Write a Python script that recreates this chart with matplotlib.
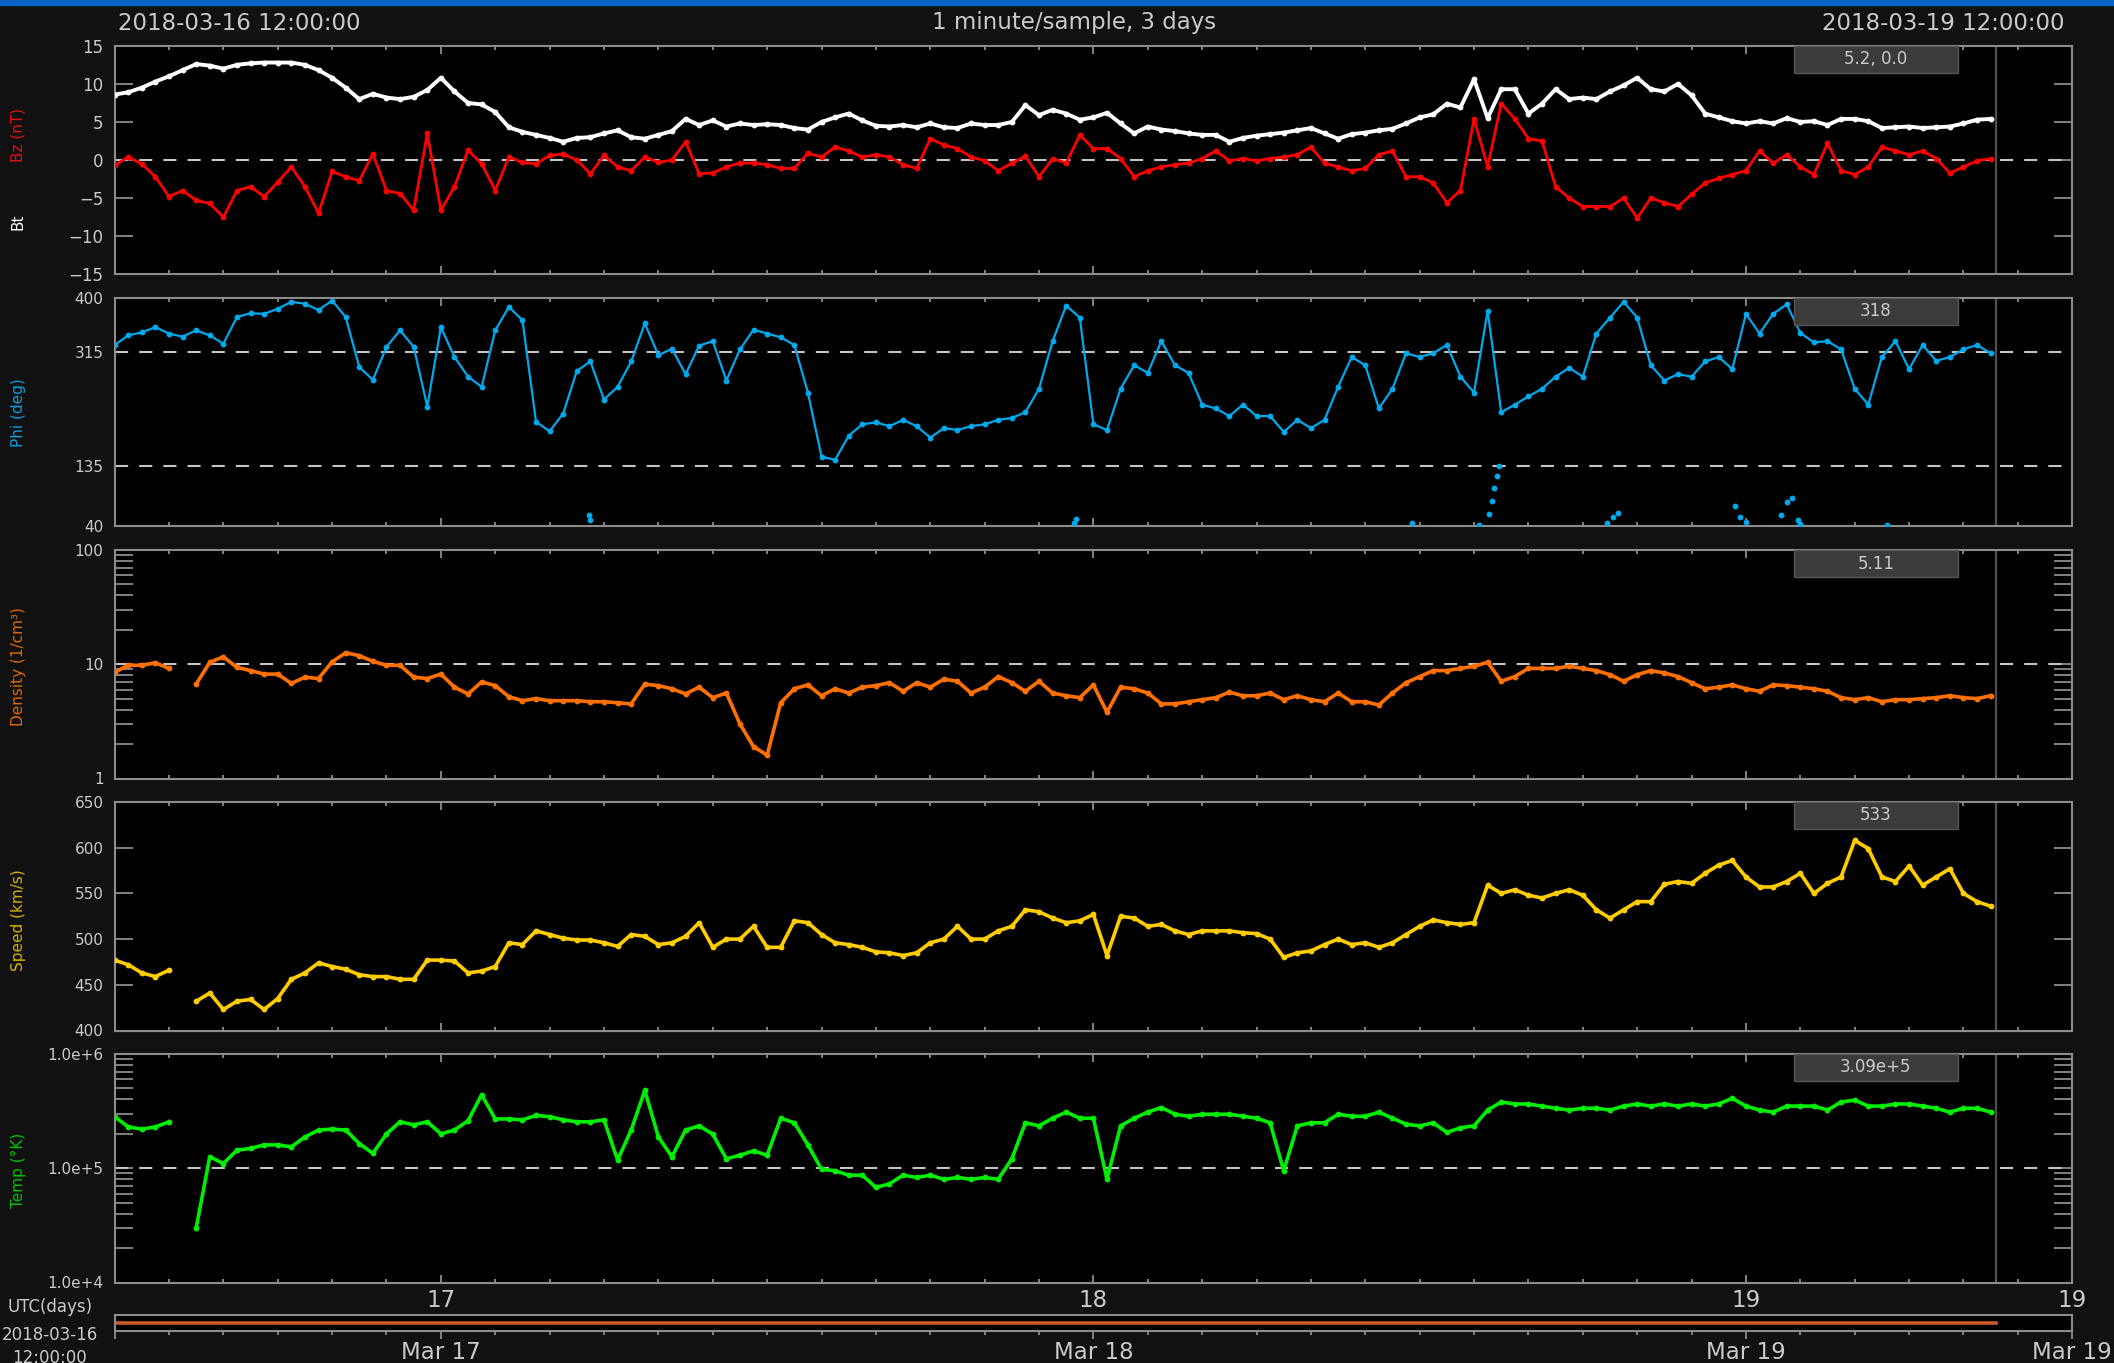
import numpy as np
import matplotlib
matplotlib.use("Agg")
import matplotlib.pyplot as plt
from matplotlib.ticker import FixedLocator, FixedFormatter, NullFormatter
from matplotlib.patches import Rectangle
import matplotlib.transforms as mtransforms

plt.rcParams['font.family'] = ['DejaVu Sans']

# ---------------- data (hours since 2018-03-16 12:00 UTC, 30-min samples) ----------------
hours = np.arange(0, 69.01, 0.5)
t_now = 69.2

bt = [8.6, 8.9, 9.5, 10.3, 11.0, 11.8, 12.6, 12.4, 12.0, 12.5,
      12.7, 12.8, 12.8, 12.8, 12.5, 11.8, 10.8, 9.5, 8.0, 8.7,
      8.2, 8.0, 8.3, 9.2, 10.8, 9.0, 7.5, 7.3, 6.3, 4.3,
      3.7, 3.3, 2.9, 2.4, 2.9, 3.0, 3.5, 3.9, 3.0, 2.8,
      3.3, 3.8, 5.4, 4.6, 5.2, 4.4, 4.8, 4.6, 4.7, 4.6,
      4.2, 4.0, 5.0, 5.6, 6.1, 5.2, 4.5, 4.4, 4.6, 4.3,
      4.8, 4.3, 4.2, 4.8, 4.6, 4.6, 5.0, 7.2, 5.9, 6.6,
      6.1, 5.3, 5.6, 6.2, 4.8, 3.5, 4.4, 4.0, 3.8, 3.5,
      3.3, 3.3, 2.4, 2.9, 3.2, 3.4, 3.6, 3.9, 4.2, 3.5,
      2.8, 3.4, 3.6, 3.9, 4.1, 4.8, 5.6, 6.0, 7.4, 6.9,
      10.6, 5.5, 9.3, 9.3, 6.1, 7.4, 9.3, 8.0, 8.2, 8.0,
      9.0, 9.8, 10.8, 9.3, 9.0, 10.0, 8.5, 6.1, 5.6, 5.1,
      4.8, 5.1, 4.8, 5.5, 5.0, 5.1, 4.6, 5.4, 5.4, 5.1,
      4.2, 4.3, 4.4, 4.2, 4.3, 4.4, 4.8, 5.3, 5.4]

bz = [-0.7, 0.4, -0.5, -2.2, -4.8, -4.0, -5.3, -5.7, -7.5, -4.0,
      -3.5, -4.8, -2.9, -0.9, -3.5, -7.0, -1.5, -2.2, -2.7, 0.8,
      -4.0, -4.4, -6.6, 3.5, -6.6, -3.5, 1.3, -0.5, -4.0, 0.4,
      -0.3, -0.5, 0.6, 0.8, 0.0, -1.8, 0.6, -0.9, -1.4, 0.4,
      -0.3, 0.0, 2.4, -1.8, -1.7, -0.9, -0.4, -0.4, -0.6, -1.1,
      -1.1, 0.9, 0.4, 1.7, 1.2, 0.4, 0.7, 0.4, -0.6, -1.1,
      2.8, 2.0, 1.5, 0.4, -0.1, -1.4, -0.4, 0.5, -2.2, 0.2,
      -0.4, 3.3, 1.5, 1.5, 0.2, -2.2, -1.4, -0.9, -0.6, -0.4,
      0.2, 1.2, -0.1, 0.2, -0.1, 0.2, 0.4, 0.7, 1.7, -0.4,
      -0.9, -1.4, -1.1, 0.7, 1.2, -2.2, -2.2, -3.0, -5.6, -4.0,
      5.4, -0.9, 7.4, 5.4, 2.8, 2.5, -3.5, -5.0, -6.1, -6.1,
      -6.1, -5.0, -7.6, -5.0, -5.6, -6.1, -4.5, -3.0, -2.4, -1.9,
      -1.4, 1.2, -0.4, 0.7, -0.9, -1.9, 2.2, -1.4, -1.9, -0.9,
      1.7, 1.2, 0.7, 1.2, 0.2, -1.7, -0.9, -0.1, 0.2]

phi = [326, 341, 346, 354, 344, 339, 349, 341, 328, 370,
       376, 375, 383, 394, 391, 381, 396, 370, 291, 271,
       323, 349, 323, 229, 354, 307, 276, 260, 349, 386,
       365, 205, 190, 218, 285, 300, 240, 260, 300, 360,
       310, 320, 280, 325, 332, 270, 319, 350, 344, 338,
       326, 251, 150, 145, 183, 201, 204, 198, 208, 198,
       180, 195, 192, 198, 201, 208, 211, 220, 257, 332,
       388, 369, 201, 192, 257, 294, 282, 332, 294, 282,
       232, 226, 214, 232, 214, 214, 189, 208, 195, 208,
       260, 307, 294, 226, 257, 313, 307, 313, 326, 276,
       251, 380, 220, 232, 245, 257, 276, 290, 276, 344,
       369, 394, 369, 294, 270, 280, 276, 300, 307, 288,
       375, 344, 375, 390, 345, 330, 332, 319, 257, 232,
       307, 332, 288, 326, 301, 307, 319, 326, 313]

# phi samples that wrapped past 400 deg (drawn near the bottom of the panel)
phi_wrap_hours = [17.45, 17.5, 35.3, 35.35, 47.7, 50.2, 50.55, 50.65, 50.75, 50.85,
                  50.9, 54.9, 55.1, 55.3, 59.6, 59.8, 60.0, 61.3, 61.5, 61.7, 61.9, 62.0, 65.2]
phi_wrap_vals = [58, 50, 46, 52, 46, 42, 60, 80, 100, 120,
                 135, 45, 55, 62, 72, 55, 47, 58, 78, 85, 50, 44, 43]

density = [8.5, 9.8, 9.8, 10.3, 9.2, np.nan, 6.7, 10.4, 11.6, 9.4,
           8.8, 8.2, 8.2, 6.8, 7.7, 7.5, 10.5, 12.6, 11.9, 10.6,
           9.8, 9.8, 7.7, 7.5, 8.2, 6.3, 5.5, 7.0, 6.5, 5.2,
           4.8, 5.0, 4.8, 4.8, 4.8, 4.7, 4.7, 4.6, 4.5, 6.7,
           6.5, 6.1, 5.5, 6.3, 5.1, 5.6, 3.0, 1.9, 1.6, 4.6,
           6.1, 6.6, 5.3, 6.1, 5.6, 6.3, 6.5, 6.9, 5.8, 6.9,
           6.3, 7.4, 7.1, 5.6, 6.3, 7.8, 6.9, 5.8, 7.1, 5.6,
           5.3, 5.1, 6.6, 3.8, 6.3, 6.1, 5.6, 4.5, 4.5, 4.7,
           4.9, 5.1, 5.7, 5.3, 5.3, 5.6, 4.9, 5.3, 4.9, 4.7,
           5.6, 4.7, 4.7, 4.4, 5.6, 6.9, 7.8, 8.8, 8.8, 9.2,
           9.6, 10.4, 7.1, 7.8, 9.2, 9.2, 9.2, 9.6, 9.2, 8.8,
           8.1, 7.1, 8.1, 8.8, 8.4, 7.8, 6.9, 6.1, 6.3, 6.6,
           6.1, 5.8, 6.6, 6.5, 6.3, 6.1, 5.8, 5.1, 4.9, 5.1,
           4.7, 4.9, 4.9, 5.0, 5.1, 5.3, 5.1, 5.0, 5.3]

speed = [477, 472, 463, 459, 466, np.nan, 432, 441, 423, 432,
         434, 423, 435, 456, 463, 474, 470, 467, 461, 459,
         459, 456, 456, 477, 477, 476, 463, 465, 470, 496,
         494, 509, 505, 501, 499, 499, 496, 492, 505, 503,
         494, 496, 503, 518, 491, 500, 500, 514, 491, 491,
         520, 518, 505, 496, 494, 491, 486, 485, 482, 485,
         496, 500, 514, 500, 500, 509, 514, 532, 530, 523,
         518, 520, 527, 482, 525, 523, 514, 516, 509, 505,
         509, 509, 509, 507, 506, 500, 480, 485, 487, 494,
         500, 494, 496, 491, 496, 505, 514, 521, 518, 516,
         518, 559, 550, 554, 548, 545, 550, 554, 548, 532,
         523, 532, 541, 541, 560, 563, 561, 572, 581, 586,
         568, 557, 557, 563, 572, 550, 561, 568, 608, 599,
         568, 563, 580, 559, 568, 577, 550, 541, 536]

temp = [2.83e5, 2.3e5, 2.2e5, 2.3e5, 2.55e5, np.nan, 3.0e4, 1.26e5, 1.1e5, 1.44e5,
        1.49e5, 1.6e5, 1.6e5, 1.54e5, 1.88e5, 2.16e5, 2.2e5, 2.16e5, 1.64e5, 1.35e5,
        2.0e5, 2.55e5, 2.4e5, 2.55e5, 2.0e5, 2.16e5, 2.6e5, 4.4e5, 2.7e5, 2.7e5,
        2.65e5, 2.9e5, 2.83e5, 2.65e5, 2.55e5, 2.55e5, 2.65e5, 1.18e5, 2.16e5, 4.8e5,
        1.88e5, 1.26e5, 2.16e5, 2.35e5, 1.99e5, 1.21e5, 1.3e5, 1.42e5, 1.3e5, 2.74e5,
        2.5e5, 1.6e5, 9.8e4, 9.5e4, 8.7e4, 8.7e4, 6.8e4, 7.3e4, 8.7e4, 8.3e4,
        8.7e4, 8.0e4, 8.3e4, 8.0e4, 8.3e4, 8.0e4, 1.21e5, 2.5e5, 2.35e5, 2.74e5,
        3.1e5, 2.74e5, 2.74e5, 8.0e4, 2.35e5, 2.74e5, 3.1e5, 3.4e5, 2.97e5, 2.85e5,
        2.97e5, 2.97e5, 2.97e5, 2.85e5, 2.74e5, 2.5e5, 9.5e4, 2.35e5, 2.5e5, 2.5e5,
        2.97e5, 2.85e5, 2.85e5, 3.1e5, 2.74e5, 2.43e5, 2.35e5, 2.5e5, 2.06e5, 2.26e5,
        2.35e5, 3.23e5, 3.8e5, 3.65e5, 3.65e5, 3.5e5, 3.35e5, 3.23e5, 3.35e5, 3.35e5,
        3.23e5, 3.5e5, 3.65e5, 3.5e5, 3.65e5, 3.5e5, 3.65e5, 3.5e5, 3.65e5, 4.1e5,
        3.5e5, 3.23e5, 3.1e5, 3.5e5, 3.5e5, 3.5e5, 3.23e5, 3.8e5, 3.95e5, 3.5e5,
        3.5e5, 3.65e5, 3.65e5, 3.5e5, 3.35e5, 3.1e5, 3.35e5, 3.35e5, 3.1e5]

box_labels = ["5.2, 0.0", "318", "5.11", "533", "3.09e+5"]

bz_ticks = [-15, -10, -5, 0, 5, 10, 15]
phi_ticks = [40, 135, 315, 400]
dens_ticks = [1, 10, 100]
dens_tick_labels = ["1", "10", "100"]
speed_ticks = [400, 450, 500, 550, 600, 650]
temp_ticks = [1e4, 1e5, 1e6]
temp_tick_labels = ["1.0e+4", "1.0e+5", "1.0e+6"]
day_label_hours = [12, 36, 60, 72]
day_labels = ["17", "18", "19", "19"]
date_labels = ["", "Mar 17", "Mar 18", "Mar 19", "Mar 19"]

# ---------------- figure ----------------
W, H = 2114, 1363
fig = plt.figure(figsize=(W / 100, H / 100), dpi=100)
fig.patch.set_facecolor('#111111')
fig.add_artist(Rectangle((0, 1 - 5 / H), 1, 5 / H, transform=fig.transFigure,
                         color='#0a64c8', zorder=10))

GRID = '#8c8c8c'
TXT = '#cacaca'
L, R = 114.6, 2072.2
PH = 228.5
tops = [45.8, 298, 550, 802, 1054]
minor_hours = np.arange(2, 72, 2)


def add_panel(top):
    return fig.add_axes([L / W, 1 - (top + PH) / H, (R - L) / W, PH / H])


def base_style(ax, ylen=13, labelsize=11):
    ax.set_facecolor('black')
    for s in ax.spines.values():
        s.set_color(GRID)
        s.set_linewidth(1.5)
    ax.set_xlim(0, 72)
    ax.xaxis.set_major_locator(FixedLocator([12, 36, 60]))
    ax.xaxis.set_minor_locator(FixedLocator(minor_hours))
    ax.tick_params(axis='x', which='major', direction='in', top=True, bottom=True,
                   length=6, width=1.3, color=GRID, labelbottom=False)
    ax.tick_params(axis='x', which='minor', direction='in', top=True, bottom=True,
                   length=3, width=1.3, color=GRID)
    ax.tick_params(axis='y', which='both', direction='in', left=True, right=True,
                   length=ylen, width=1.3, color=GRID, labelcolor=TXT,
                   labelsize=labelsize, pad=8)
    ax.axvline(t_now, color='#505050', lw=1.6, zorder=1)


def dashed(ax, y):
    ax.axhline(y, color='#c4c4c4', lw=1.5, dashes=(6.3, 5.3), zorder=2)


def value_box(ax, text):
    trans = mtransforms.blended_transform_factory(ax.transData, ax.transAxes)
    h = 27 / PH
    ax.add_patch(Rectangle((61.75, 1 - h), 6.05, h, transform=trans,
                           facecolor='#3b3b3b', edgecolor='#555555', lw=1.0,
                           zorder=6, clip_on=False))
    ax.text(64.78, 1 - h / 2, text, transform=trans, ha='center', va='center',
            color=TXT, fontsize=12, zorder=7)


def ylab(y, text, color):
    fig.text(18 / W, 1 - y / H, text, rotation=90, color=color,
             ha='center', va='center', fontsize=11)


pt = dict(marker='o', ms=4.2, mew=0)

# Panel 1: Bt / Bz
ax1 = add_panel(tops[0])
base_style(ax1, labelsize=12)
ax1.plot(hours, bt, color='white', lw=2.8, zorder=3, **pt)
ax1.plot(hours, bz, color='#ff0000', lw=2.0, zorder=4, **pt)
ax1.set_ylim(-15, 15)
ax1.yaxis.set_major_locator(FixedLocator(bz_ticks))
dashed(ax1, 0)
value_box(ax1, box_labels[0])
ylab(135, 'Bz (nT)', '#dd1111')
ylab(222, 'Bt', 'white')

# Panel 2: Phi
ax2 = add_panel(tops[1])
base_style(ax2, ylen=0)
ax2.plot(hours, phi, color='#00a8ec', lw=1.6, zorder=3, **pt)
ax2.plot(phi_wrap_hours, phi_wrap_vals, linestyle='none', color='#00a8ec', zorder=3, **pt)
ax2.set_ylim(40, 400)
ax2.yaxis.set_major_locator(FixedLocator(phi_ticks))
dashed(ax2, 315)
dashed(ax2, 135)
value_box(ax2, box_labels[1])
ylab(413, 'Phi (deg)', '#0a9ee0')

# Panel 3: Density
ax3 = add_panel(tops[2])
ax3.set_yscale('log')
base_style(ax3)
ax3.plot(hours, density, color='#ff7000', lw=2.6, zorder=3, **pt)
ax3.set_ylim(1, 100)
ax3.yaxis.set_major_locator(FixedLocator(dens_ticks))
ax3.yaxis.set_major_formatter(FixedFormatter(dens_tick_labels))
ax3.yaxis.set_minor_locator(FixedLocator([m * d for d in (1, 10) for m in range(2, 10)]))
ax3.yaxis.set_minor_formatter(NullFormatter())
dashed(ax3, 10)
value_box(ax3, box_labels[2])
ylab(667, 'Density (1/cm³)', '#e06a00')

# Panel 4: Speed
ax4 = add_panel(tops[3])
base_style(ax4)
ax4.plot(hours, speed, color='#ffcc00', lw=2.6, zorder=3, **pt)
ax4.set_ylim(400, 650)
ax4.yaxis.set_major_locator(FixedLocator(speed_ticks))
value_box(ax4, box_labels[3])
ylab(920, 'Speed (km/s)', '#d9b000')

# Panel 5: Temperature
ax5 = add_panel(tops[4])
ax5.set_yscale('log')
base_style(ax5)
ax5.plot(hours, temp, color='#00ee00', lw=2.6, zorder=3, **pt)
ax5.set_ylim(1e4, 1e6)
ax5.yaxis.set_major_locator(FixedLocator(temp_ticks))
ax5.yaxis.set_major_formatter(FixedFormatter(temp_tick_labels))
ax5.yaxis.set_minor_locator(FixedLocator([m * d for d in (1e4, 1e5) for m in range(2, 10)]))
ax5.yaxis.set_minor_formatter(NullFormatter())
dashed(ax5, 1e5)
value_box(ax5, box_labels[4])
ylab(1170, 'Temp (°K)', '#00c400')
ax5.xaxis.set_major_locator(FixedLocator(day_label_hours))
ax5.xaxis.set_major_formatter(FixedFormatter(day_labels))
ax5.tick_params(axis='x', which='major', labelbottom=True, labelsize=16.5,
                labelcolor=TXT, pad=5)

# Timeline bar
axb = fig.add_axes([L / W, 1 - 1331 / H, (R - L) / W, 16 / H])
axb.set_facecolor('black')
for s in axb.spines.values():
    s.set_color(GRID)
    s.set_linewidth(1.5)
axb.set_xlim(0, 72)
axb.set_ylim(0, 1)
axb.plot([hours[0], t_now], [0.5, 0.5], color='#c85a28', lw=2.6)
axb.set_yticks([])
axb.xaxis.set_major_locator(FixedLocator([0, 12, 36, 60, 72]))
axb.xaxis.set_major_formatter(FixedFormatter(date_labels))
axb.xaxis.set_minor_locator(FixedLocator(minor_hours))
axb.tick_params(axis='x', which='major', direction='out', length=6, width=1.3,
                color=GRID, labelcolor=TXT, labelsize=16.5, pad=1)
axb.tick_params(axis='x', which='minor', direction='out', length=3, width=1.3, color=GRID)

# Titles and side labels
fig.text(118 / W, 1 - 23 / H, '2018-03-16 12:00:00', ha='left', va='center', fontsize=16.5, color=TXT)
fig.text(1074 / W, 1 - 23 / H, '1 minute/sample, 3 days', ha='center', va='center', fontsize=16.5, color=TXT)
fig.text(2065 / W, 1 - 23 / H, '2018-03-19 12:00:00', ha='right', va='center', fontsize=16.5, color=TXT)
fig.text(50 / W, 1 - 1307 / H, 'UTC(days)', ha='center', va='center', fontsize=12, color=TXT)
fig.text(50 / W, 1 - 1335 / H, '2018-03-16', ha='center', va='center', fontsize=12, color=TXT)
fig.text(50 / W, 1 - 1358 / H, '12:00:00', ha='center', va='center', fontsize=12, color=TXT)

fig.savefig('out.png', dpi=100, facecolor=fig.get_facecolor())
